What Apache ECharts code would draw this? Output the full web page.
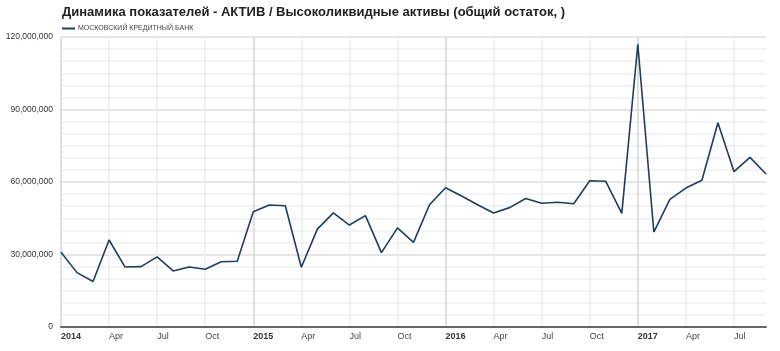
<!DOCTYPE html>
<html>
<head>
<meta charset="utf-8">
<script src="https://cdn.jsdelivr.net/npm/echarts@6/dist/echarts.min.js"></script>
<style>
html, body { margin: 0; padding: 0; background: #fff; }
#main { width: 780px; height: 351px; }
</style>
</head>
<body>
<div id="main"></div>
<script>
// months 2014-01 .. 2017-09
var months = [];
for (var y = 2014; y <= 2017; y++) {
	for (var m = 1; m <= 12; m++) {
		if (y == 2017 && m > 9) break;
		months.push(y + '-' + (m < 10 ? '0' + m : m));
	}
}
var monthNames = ['', '', '', 'Apr', '', '', 'Jul', '', '', 'Oct', '', ''];

// values in millions
var bankValues = [
	30.9, 22.5, 18.8, 36.0, 24.8, 25.0, 29.0, 23.2, 24.8, 23.9, 27.0, 27.2,
	47.7, 50.5, 50.2, 24.7, 40.5, 47.2, 42.2, 46.1, 30.8, 41.0, 35.0, 50.6,
	57.6, 54.2, 50.6, 47.2, 49.4, 53.2, 51.2, 51.6, 51.0, 60.5, 60.3, 47.0,
	117.0, 39.3, 52.8, 57.5, 60.7, 84.5, 64.3, 70.2, 63.3
];
var seriesName = 'МОСКОВСКИЙ КРЕДИТНЫЙ БАНК';

function fmt(v) {
	return String(v).replace(/\B(?=(\d{3})+(?!\d))/g, ',');
}

var chart = echarts.init(document.getElementById('main'));
var option = {
	animation: false,
	textStyle: { fontFamily: 'Liberation Sans, Arial, sans-serif' },
	title: {
		text: 'Динамика показателей - АКТИВ / Высоколиквидные активы (общий остаток, )',
		left: 57,
		top: 1,
		textStyle: { fontSize: 13, fontWeight: 'bold', color: '#222' }
	},
	legend: {
		left: 57,
		top: 20,
		itemWidth: 13,
		itemHeight: 2,
		itemGap: 4,
		icon: 'rect',
		textStyle: { fontSize: 7, color: '#444', padding: [0, 0, 0, -2] },
		data: [seriesName]
	},
	grid: { left: 61, right: 14, top: 37, bottom: 24 },
	xAxis: {
		type: 'category',
		boundaryGap: false,
		data: months,
		axisLine: { lineStyle: { color: '#666', width: 2 } },
		axisTick: { show: false },
		axisLabel: {
			interval: 2,
			fontSize: 9,
			color: '#444',
			margin: 5,
			align: 'left',
			formatter: function (v) {
				var mo = parseInt(v.slice(5), 10);
				if (mo == 1) return '{y|' + v.slice(0, 4) + '}';
				return monthNames[mo - 1];
			},
			rich: { y: { fontSize: 9, fontWeight: 'bold', color: '#333' } }
		},
		splitLine: {
			show: true,
			interval: 2,
			lineStyle: { color: ['#d6d6d6', '#ececec', '#ececec', '#ececec'], width: 1.5 }
		}
	},
	yAxis: {
		type: 'value',
		min: 0,
		max: 120000000,
		interval: 30000000,
		axisLine: { show: false },
		axisTick: { show: false },
		axisLabel: {
			fontSize: 8.5,
			color: '#333',
			margin: 8,
			formatter: fmt
		},
		splitLine: { lineStyle: { color: '#dcdcdc', width: 1.5 } },
		minorTick: { show: false, splitNumber: 6 },
		minorSplitLine: { show: true, lineStyle: { color: '#f0f0f0', width: 1.5 } }
	},
	series: [{
		name: seriesName,
		type: 'line',
		data: bankValues.map(function (v) { return Math.round(v * 1000000); }),
		showSymbol: false,
		symbol: 'none',
		lineStyle: { color: '#1f3d5e', width: 1.6 },
		itemStyle: { color: '#1f3d5e' }
	}]
};
chart.setOption(option);
</script>
</body>
</html>
